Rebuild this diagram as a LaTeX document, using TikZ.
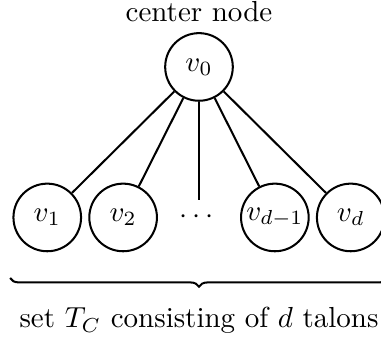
\documentclass[tikz,border=0pt]{standalone}
\usepackage{amsmath}
\usetikzlibrary{decorations.pathreplacing, positioning}

\begin{document}
\begin{tikzpicture}[line width=0.7pt,
    vtx/.style={draw, circle, minimum size=0.82cm, inner sep=0pt}]
    \useasboundingbox (-2.413,-3.322) rectangle (2.207,0.812);

    % center and talons
    \node[vtx, label=above:center node] (v0) at (0,0) {$v_0$};
    \node[vtx] (v1) at (-1.84,-1.825) {$v_1$};
    \node[vtx] (v2) at (-0.92,-1.825) {$v_2$};
    \node (dots) at (0,-1.825) {$\cdots$};
    \node[vtx] (vd1) at (0.92,-1.825) {$v_{d-1}$};
    \node[vtx] (vd) at (1.84,-1.825) {$v_d$};

    \foreach \n in {v1,v2,dots,vd1,vd}
        \draw (v0) -- (\n);

    % brace under the talons
    \coordinate (bl) at (-2.29,-2.56);
    \coordinate (br) at (2.29,-2.56);
    \draw[decorate, decoration={brace, mirror, amplitude=3pt}] (bl) -- (br);
    \node[anchor=base] (tset) at (0,-3.165) {set $T_C$ consisting of $d$ talons};
\end{tikzpicture}
\end{document}
